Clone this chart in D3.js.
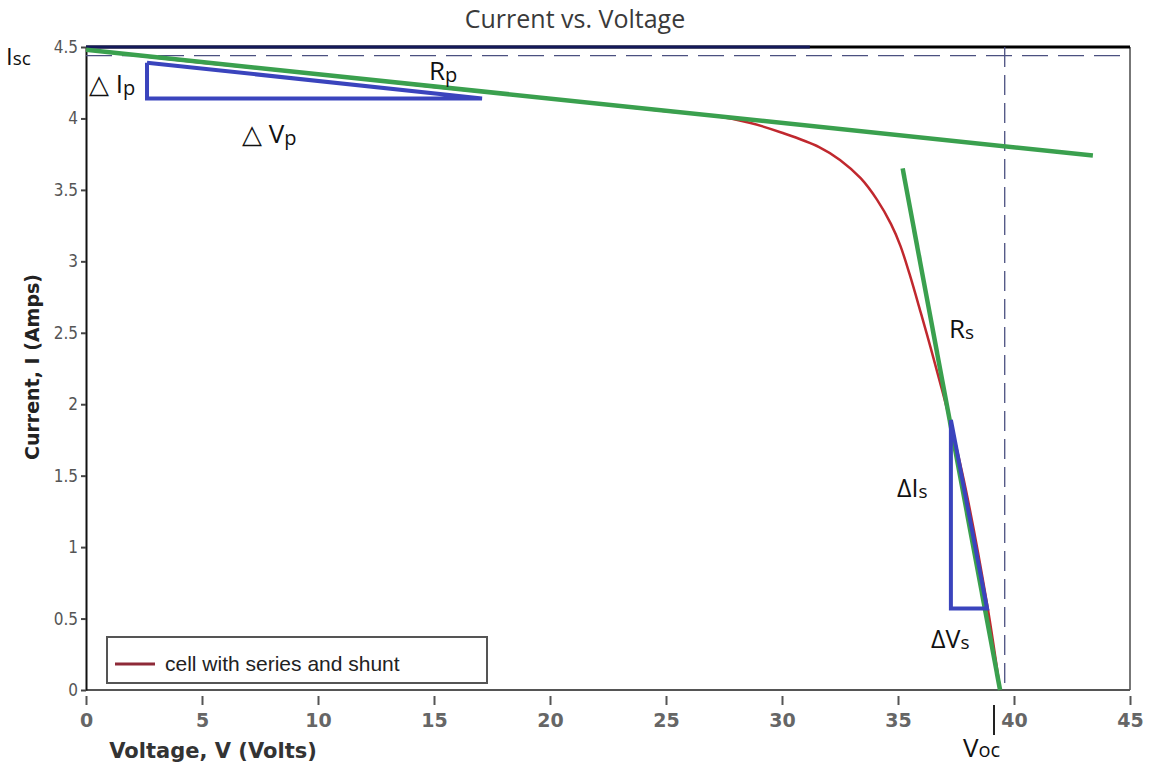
<!DOCTYPE html>
<html>
<head>
<meta charset="utf-8">
<script src="https://cdn.jsdelivr.net/npm/d3@7"></script>
<style>
  body { margin: 0; background: #fff; }
  .tick text { fill: #555; }
  .note { font-family: "Open Sans", "Noto Sans", sans-serif; fill: #111; }
</style>
</head>
<body>
<div id="chart"></div>
<script>
// I-V curve of the cell (volts, amps)
const voltage = [0, 5, 10, 15, 20, 25, 27, 28.6, 30, 31.6, 32.5, 33.4, 34.1, 34.7, 35.1, 35.5, 36.0, 36.4, 36.8, 37.2, 37.9, 38.84, 39.4];
const current = [4.48, 4.39, 4.31, 4.22, 4.14, 4.05, 4.02, 3.97, 3.90, 3.80, 3.71, 3.58, 3.43, 3.26, 3.11, 2.91, 2.63, 2.40, 2.16, 1.91, 1.42, 0.60, 0];

// tangent lines: shunt (Rp) and series (Rs)
const rpLineV = [0, 43.4];
const rpLineI = [4.48, 3.74];
const rsLineV = [35.2, 39.4];
const rsLineI = [3.65, 0];

// slope triangles [V, I]
const rpTriangle = [[2.63, 4.39], [2.63, 4.14], [17.07, 4.14], [2.63, 4.39]];
const rsTriangle = [[37.28, 1.89], [37.28, 0.57], [38.84, 0.57], [37.28, 1.89]];

const isc = 4.44;
const voc = 39.6;
const xTicks = [0, 5, 10, 15, 20, 25, 30, 35, 40, 45];
const yTicks = [0, 0.5, 1, 1.5, 2, 2.5, 3, 3.5, 4, 4.5];

const width = 1155, height = 772;
const margin = { top: 47, right: 25, bottom: 82, left: 86 };

const svg = d3.select('#chart')
  .append('svg')
  .attr('width', width)
  .attr('height', height);

const x = d3.scaleLinear().domain([0, 45]).range([margin.left, width - margin.right]);
const y = d3.scaleLinear().domain([0, 4.5]).range([height - margin.bottom, margin.top]);

// title
svg.append('text')
  .attr('x', 575).attr('y', 28)
  .attr('text-anchor', 'middle')
  .style('font-family', '"Open Sans", "Noto Sans", sans-serif')
  .style('font-size', '25px')
  .style('fill', '#3a3a3a')
  .text('Current vs. Voltage');

// frame
svg.append('line')
  .attr('x1', x(45)).attr('x2', x(45))
  .attr('y1', y(4.5)).attr('y2', y(0))
  .attr('stroke', '#777').attr('stroke-width', 2);
svg.append('line')
  .attr('x1', x(0)).attr('x2', x(45))
  .attr('y1', y(4.5)).attr('y2', y(4.5))
  .attr('stroke', '#000').attr('stroke-width', 3);
svg.append('line')
  .attr('x1', x(0)).attr('x2', x(31.2))
  .attr('y1', y(4.5)).attr('y2', y(4.5))
  .attr('stroke', '#14195a').attr('stroke-width', 3);

// axes
const xAxis = svg.append('g')
  .attr('transform', `translate(0, ${y(0) + 6})`)
  .call(d3.axisBottom(x).tickValues(xTicks).tickFormat(d3.format('d')).tickSize(9).tickPadding(9));
xAxis.select('.domain').remove();
xAxis.selectAll('line').attr('stroke', '#555').attr('stroke-width', 2);
xAxis.selectAll('text')
  .style('font-family', '"DejaVu Sans", sans-serif')
  .style('font-size', '19px')
  .style('font-weight', 'bold')
  .style('fill', '#666');

svg.append('line')
  .attr('x1', x(0)).attr('x2', x(45))
  .attr('y1', y(0)).attr('y2', y(0))
  .attr('stroke', '#555').attr('stroke-width', 2);

const yAxis = svg.append('g')
  .attr('transform', `translate(${x(0)}, 0)`)
  .call(d3.axisLeft(y).tickValues(yTicks).tickFormat(d => d).tickSize(5).tickSizeOuter(0).tickPadding(3));
yAxis.select('.domain').attr('stroke', '#111').attr('stroke-width', 2);
yAxis.selectAll('line').attr('stroke', '#444').attr('stroke-width', 2);
yAxis.selectAll('text')
  .style('font-family', '"Liberation Sans Narrow", "DejaVu Sans Condensed", sans-serif')
  .style('font-size', '17px')
  .style('fill', '#555');

// axis titles
svg.append('text')
  .attr('x', 213).attr('y', 758)
  .attr('text-anchor', 'middle')
  .style('font-family', '"DejaVu Sans", sans-serif')
  .style('font-size', '21px')
  .style('font-weight', 'bold')
  .style('fill', '#333')
  .text('Voltage, V (Volts)');

svg.append('text')
  .attr('transform', 'translate(39, 367) rotate(-90)')
  .attr('text-anchor', 'middle')
  .style('font-family', '"DejaVu Sans", sans-serif')
  .style('font-size', '19px')
  .style('font-weight', 'bold')
  .style('fill', '#222')
  .text('Current, I (Amps)');

// reference dashed lines
svg.append('line')
  .attr('x1', x(0)).attr('x2', x(45))
  .attr('y1', y(isc)).attr('y2', y(isc))
  .attr('stroke', '#4b5080').attr('stroke-width', 1.3)
  .attr('stroke-dasharray', '26,10');
svg.append('line')
  .attr('x1', x(voc)).attr('x2', x(voc))
  .attr('y1', y(4.5)).attr('y2', y(0))
  .attr('stroke', '#4b5080').attr('stroke-width', 1.3)
  .attr('stroke-dasharray', '20,8');

const line = d3.line()
  .x(d => x(d[0]))
  .y(d => y(d[1]));

// cell curve
svg.append('path')
  .datum(d3.zip(voltage, current))
  .attr('d', line.curve(d3.curveCatmullRom.alpha(0.5)))
  .attr('fill', 'none')
  .attr('stroke', '#c0282e')
  .attr('stroke-width', 2.5);

line.curve(d3.curveLinear);

// tangents
svg.append('path')
  .datum(d3.zip(rpLineV, rpLineI))
  .attr('d', line)
  .attr('stroke', '#3aa04e')
  .attr('stroke-width', 4.5);
svg.append('path')
  .datum(d3.zip(rsLineV, rsLineI))
  .attr('d', line)
  .attr('stroke', '#3aa04e')
  .attr('stroke-width', 4.5);

// slope triangles
[rpTriangle, rsTriangle].forEach(t => {
  svg.append('path')
    .datum(t)
    .attr('d', line)
    .attr('fill', 'none')
    .attr('stroke', '#3a44bd')
    .attr('stroke-width', 4)
    .attr('stroke-linejoin', 'miter');
});

// legend
const legend = svg.append('g').attr('transform', 'translate(107, 637)');
legend.append('rect')
  .attr('width', 380).attr('height', 46)
  .attr('fill', '#fff')
  .attr('stroke', '#555').attr('stroke-width', 2);
legend.append('line')
  .attr('x1', 8).attr('x2', 48).attr('y1', 27).attr('y2', 27)
  .attr('stroke', '#8e2a38').attr('stroke-width', 3);
legend.append('text')
  .attr('x', 58).attr('y', 34)
  .style('font-family', '"Liberation Sans", Arial, sans-serif')
  .style('font-size', '21px')
  .style('fill', '#222')
  .text('cell with series and shunt');

// annotations
function note(px, py, parts) {
  const t = svg.append('text').attr('class', 'note').attr('x', px).attr('y', py);
  parts.forEach(([s, size, dy]) => {
    t.append('tspan').style('font-size', size + 'px').attr('dy', dy || 0).text(s);
  });
}
note(6, 65, [['I', 24], ['sc', 19]]);
note(429, 80, [['R', 26], ['p', 20, 2]]);
note(89, 93, [['△ I', 26], ['p', 20, 2]]);
note(242, 143, [['△ V', 26], ['p', 20, 2]]);
note(949, 338, [['R', 26], ['s', 19, 1]]);
note(897, 497, [['ΔI', 25], ['s', 19, 1]]);
note(931, 648, [['ΔV', 25], ['s', 19, 1]]);
note(963, 757, [['V', 26], ['oc', 20]]);

svg.append('line')
  .attr('x1', 994).attr('x2', 994)
  .attr('y1', 705).attr('y2', 735)
  .attr('stroke', '#222').attr('stroke-width', 2);
</script>
</body>
</html>
